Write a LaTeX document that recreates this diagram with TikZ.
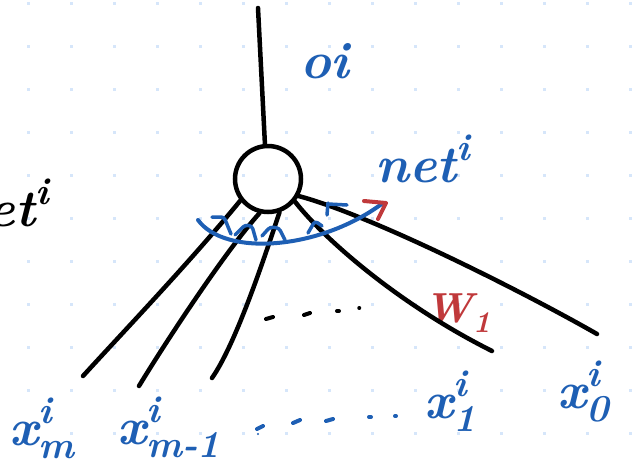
\documentclass[tikz,border=0pt]{standalone}
\definecolor{inkblue}{RGB}{30,95,180}
\definecolor{inkred}{RGB}{192,57,59}
\definecolor{griddot}{RGB}{214,230,250}
\newcommand\scr[1]{{\fontsize{38}{40}\selectfont #1}}
\newcommand\supsub[3]{#1\makebox[0pt][l]{\raisebox{0.42em}{\scr{#2}}}\raisebox{-0.26em}{\scr{#3}}}
\begin{document}
\begin{tikzpicture}[x=1pt,y=-1pt,
  ink/.style={line width=4.5pt,line cap=round,line join=round},
  blueink/.style={draw=inkblue,line width=4pt,line cap=round,line join=round},
  redink/.style={draw=inkred,line width=4pt,line cap=round,line join=round},
  lbl/.style={inner sep=0pt,anchor=base west,text=inkblue,font=\fontsize{52}{60}\selectfont\bfseries\itshape},
  neuron/.style={draw,circle,line width=4.5pt,minimum size=66pt,inner sep=0pt}]
\useasboundingbox (0,0) rectangle (633,467);
\fill[white] (0,0) rectangle (633,467);
% faint grid
\foreach \i in {0,...,14}{\foreach \j in {0,...,10}{
  \fill[griddot] (27+43*\i,2+43*\j) rectangle +(2.5,2.5);}}
% neuron
\node[neuron] (n) at (268,179) {};
% labels
\node[lbl] (oi) at (300,78) {oi};
\node[lbl] (netR) at (375,182) {net\raisebox{0.42em}{\scr{i}}};
\node[lbl,text=black] (netL) at (-46,226) {net\raisebox{0.42em}{\scr{i}}};
\node[lbl,text=inkred,font=\fontsize{42}{48}\selectfont\bfseries\itshape] (w1) at (424,322) {W\raisebox{-0.25em}{\fontsize{30}{32}\selectfont 1}};
\node[lbl] (xm) at (9,445) {\supsub{x}{i}{m}};
\node[lbl] (xm1) at (117,444) {\supsub{x}{i}{m-1}};
\node[lbl] (x1) at (424,418) {\supsub{x}{i}{1}};
\node[lbl] (x0) at (557,408) {\supsub{x}{i}{0}};
% connector end points
\coordinate (top) at (258,8);
\coordinate (em) at (83,376);
\coordinate (em1) at (139,386);
\coordinate (em2) at (212,378);
\coordinate (e1) at (492,351);
\coordinate (e0) at (597,334);
\draw[ink] (top) -- (n.95);
\draw[ink] (n.218) .. controls (190,262) and (125,330) .. (em);
\draw[ink] (n.256) .. controls (228,248) and (170,335) .. (em1);
\draw[ink] (n.289) .. controls (262,265) and (235,345) .. (em2);
\draw[ink] (n.320) .. controls (325,240) and (400,305) .. (e1);
\draw[ink] (n.331) .. controls (370,215) and (520,290) .. (e0);
% middle dots
\draw[ink,line width=4pt] (266,319) -- (273,317);
\draw[ink,line width=4pt] (304,315) -- (310,313);
\draw[ink,line width=4pt] (337,311) -- (339,311);
\draw[ink,line width=3.5pt] (359,308) -- (359.5,308);
% bottom dots
\draw[blueink] (257,429) -- (263,426);
\fill[inkblue] (258,434) circle (1.2);
\draw[blueink] (293,423) -- (300,420);
\draw[blueink] (326,421) -- (333,419);
\draw[blueink] (369,417) -- (371,417);
\draw[blueink] (395,416) -- (396,416);
% angle arc
\coordinate (arcL) at (198,220);
\coordinate (arcR) at (383,203);
\draw[blueink] (arcL) .. controls (225,257) and (320,250) .. (arcR);
\begin{scope}[blueink,line width=3.5pt,rounded corners=3pt]
\draw (212,217) -- (224,217) -- (231,234);
\draw (235,235) -- (245,225) -- (252,226) -- (256,240);
\draw (262,236) -- (270,227) -- (279,228) -- (285,240);
\draw (308,233) -- (315,221) -- (322,226);
\draw (327,215) -- (328,203);
\draw (328,204) -- (347,205);
\end{scope}
\draw[redink] (364,201) -- (386,203) -- (378,219);
\end{tikzpicture}
\end{document}
